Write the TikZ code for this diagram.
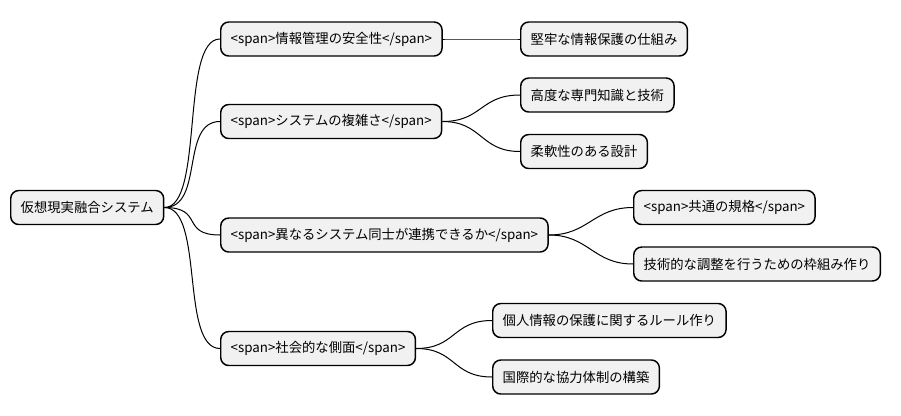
\documentclass[tikz,border=0pt]{standalone}
\usepackage{fontspec}
\setmainfont{Noto Sans CJK JP}
\tikzset{every picture/.style={line width=0.75pt}}
\tikzset{mm/.style={draw=black,fill={rgb,255:red,241;green,241;blue,241},rounded corners=6pt,line width=1.1pt,anchor=west,minimum height=25.5pt,inner xsep=7.5pt,font=\fontsize{10}{12}\selectfont}}
\tikzset{link/.style={line width=0.75pt}}

\begin{document}
\begin{tikzpicture}[x=0.75pt,y=0.75pt,yscale=-1,xscale=1]
\useasboundingbox (0,0) rectangle (901,415);

% root
\node [mm] (root) at (10,207.5) {仮想現実融合システム};
% level 1
\node [mm] (anzen) at (220,39) {<span>情報管理の安全性</span>};
\node [mm] (fukuzatsu) at (220,121.5) {<span>システムの複雑さ</span>};
\node [mm] (renkei) at (220,235) {<span>異なるシステム同士が連携できるか</span>};
\node [mm] (shakai) at (220,348.5) {<span>社会的な側面</span>};
% level 2
\node [mm] (hogo) at (520,39) {堅牢な情報保護の仕組み};
\node [mm] (senmon) at (520,95) {高度な専門知識と技術};
\node [mm] (sekkei) at (520,151.5) {柔軟性のある設計};
\node [mm] (kikaku) at (633,207.5) {<span>共通の規格</span>};
\node [mm] (waku) at (633,264) {技術的な調整を行うための枠組み作り};
\node [mm] (rule) at (492,320.5) {個人情報の保護に関するルール作り};
\node [mm] (kyoryoku) at (492,377) {国際的な協力体制の構築};

% links
\foreach \a/\b in {root/anzen,root/fukuzatsu,root/renkei,root/shakai,anzen/hogo,fukuzatsu/senmon,fukuzatsu/sekkei,renkei/kikaku,renkei/waku,shakai/rule,shakai/kyoryoku}
  \draw [link] (\a.east) .. controls ([xshift=30]\a.east) and ([xshift=-30]\b.west) .. (\b.west);

\end{tikzpicture}
\end{document}
